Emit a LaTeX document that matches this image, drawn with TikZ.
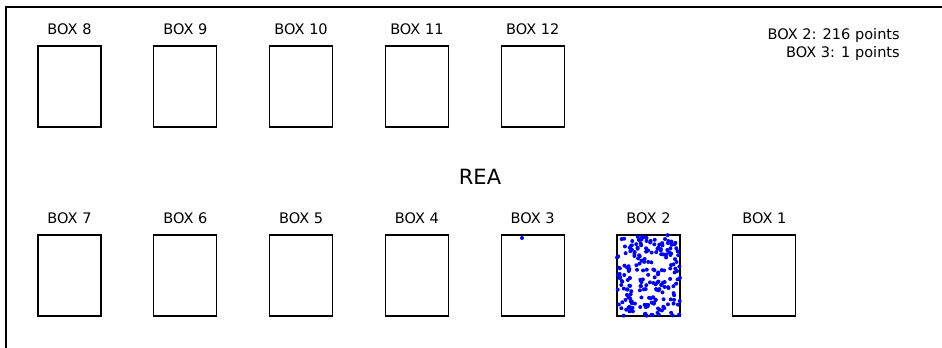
\documentclass[tikz,border=0pt]{standalone}
\usepackage{fontspec}
\setmainfont{DejaVu Sans}
\usetikzlibrary{positioning}
\tikzset{
  binbox/.style={rectangle, draw=black, line width=0.8pt, minimum width=47.25pt, minimum height=60.75pt, inner sep=0pt},
  binlabel/.style={inner sep=0pt, font=\fontsize{10.9}{13}\selectfont, above=7.5pt of #1},
  hit/.style={fill=blue},
  frameline/.style={draw=black, line width=1.5pt}
}

\begin{document}
\begin{tikzpicture}[x=0.75pt, y=-0.75pt]
  \useasboundingbox (0,0) rectangle (942,347);
  \draw[frameline] (6,380) -- (6,7) -- (980,7);
  % upper row
  \node[binbox] (b8) at (69.5,86.5) {};
  \node[binbox] (b9) at (185.3,86.5) {};
  \node[binbox] (b10) at (301.1,86.5) {};
  \node[binbox] (b11) at (416.9,86.5) {};
  \node[binbox] (b12) at (532.7,86.5) {};
  % lower row
  \node[binbox] (b7) at (69.5,275.5) {};
  \node[binbox] (b6) at (185.3,275.5) {};
  \node[binbox] (b5) at (301.1,275.5) {};
  \node[binbox] (b4) at (416.9,275.5) {};
  \node[binbox] (b3) at (532.7,275.5) {};
  \node[binbox] (b2) at (648.5,275.5) {};
  \node[binbox] (b1) at (764.3,275.5) {};
  \node[binlabel=b8] (l8) {BOX 8};
  \node[binlabel=b9] (l9) {BOX 9};
  \node[binlabel=b10] (l10) {BOX 10};
  \node[binlabel=b11] (l11) {BOX 11};
  \node[binlabel=b12] (l12) {BOX 12};
  \node[binlabel=b7] (l7) {BOX 7};
  \node[binlabel=b6] (l6) {BOX 6};
  \node[binlabel=b5] (l5) {BOX 5};
  \node[binlabel=b4] (l4) {BOX 4};
  \node[binlabel=b3] (l3) {BOX 3};
  \node[binlabel=b2] (l2) {BOX 2};
  \node[binlabel=b1] (l1) {BOX 1};
  \node[font=\fontsize{15.75}{18}\selectfont] (area) at (480,177) {REA};
  \node[anchor=north east, inner sep=0pt, align=right, font=\fontsize{10.9}{13.5}\selectfont] (count) at (900,28) {BOX 2: 216 points\\BOX 3: 1 points};
  % points
  \pgfmathsetseed{4217}
  \foreach \k in {1,...,216}
    \fill[hit] ({617+63*rnd},{235+81*rnd}) circle[radius=1.5pt];
  \fill[hit] (522,238) circle[radius=1.5pt];
\end{tikzpicture}
\end{document}
